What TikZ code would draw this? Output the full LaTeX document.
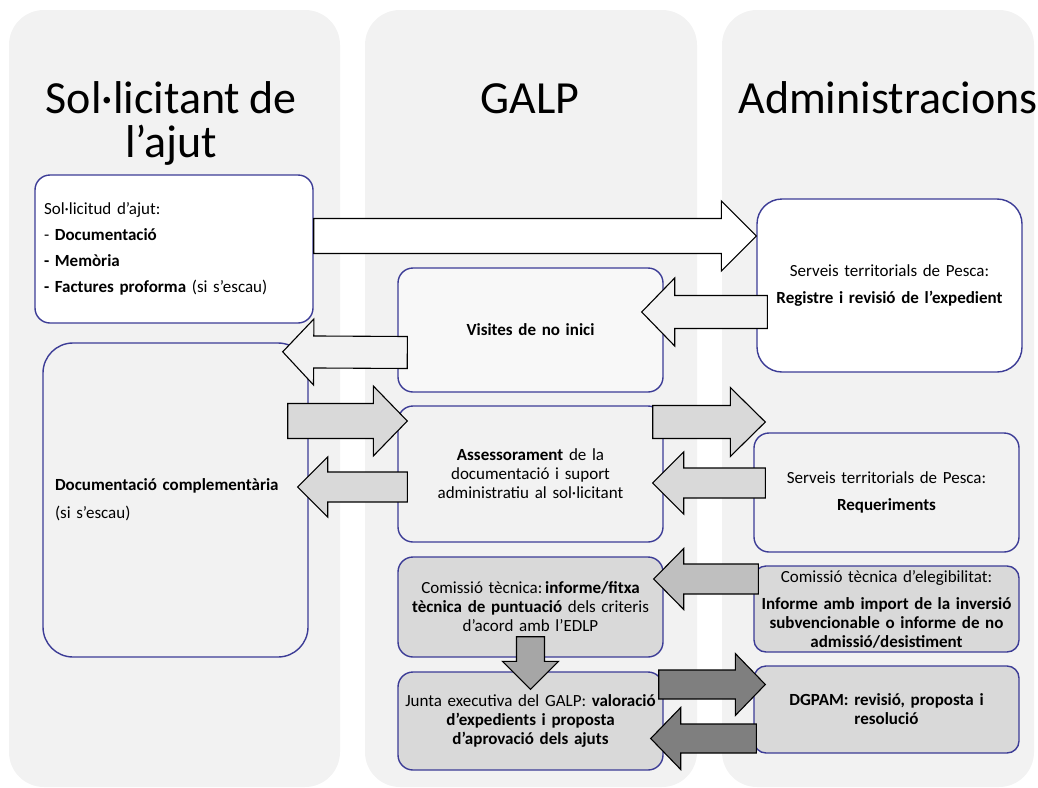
\documentclass[tikz,border=0pt]{standalone}
\usepackage{fontspec}
\setmainfont[WordSpace=0.85]{Carlito}
\usetikzlibrary{calc}
\definecolor{colbg}{HTML}{F2F2F2}
\definecolor{bord}{HTML}{3C3C96}
\definecolor{boxlight}{HTML}{F8F8F8}
\definecolor{boxgray}{HTML}{D9D9D9}
\definecolor{arrA}{HTML}{D9D9D9}
\definecolor{arrB}{HTML}{BFBFBF}
\definecolor{arrC}{HTML}{A6A6A6}
\definecolor{arrD}{HTML}{7F7F7F}
\newcommand{\blockarrow}[6]{%
  \coordinate (ba-s) at #2;
  \coordinate (ba-e) at #3;
  \coordinate (ba-h) at ($(ba-e)!#6!(ba-s)$);
  \draw[blockarr, fill=#1]
    ($(ba-s)!#4!90:(ba-e)$) -- ($(ba-h)!#4!-90:(ba-s)$) -- ($(ba-h)!#5!-90:(ba-s)$)
    -- (ba-e) -- ($(ba-h)!#5!90:(ba-s)$) -- ($(ba-h)!#4!90:(ba-s)$)
    -- ($(ba-s)!#4!-90:(ba-e)$) -- cycle;
}
\tikzset{
  column/.style={fill=colbg, rounded corners=35pt},
  title/.style={font=\fontsize{46}{44}\selectfont, align=center, inner sep=0pt},
  box/.style={draw=bord, line width=1.4pt, rounded corners=15pt, inner xsep=4pt, inner ysep=0pt,
    font=\fontsize{17}{19}\selectfont, align=center, minimum width=265pt, text width=257pt},
  blockarr/.style={draw=black, line width=1.1pt, line join=miter},
}
\begin{document}
\begin{tikzpicture}[x=1pt,y=-1pt]
\useasboundingbox (0,0) rectangle (1038,787);
% columns
\fill[column] (9,10) rectangle (340,787);
\fill[column] (365,10) rectangle (697,787);
\fill[column] (722,10) rectangle (1034,787);
% titles
\node[title, anchor=base] (t1) at (171,157) {Sol·licitant de\\l’ajut};
\node[title, anchor=base] (t2) at (530,113) {GALP};
\node[title, anchor=base] (t3) at (888,113) {Administracions};
% boxes
\node[box, fill=white, minimum width=278pt, minimum height=148pt, text width=260pt, inner xsep=9pt, align=left] (b1) at (174,249)
  {Sol·licitud d’ajut:\\[7pt]- \textbf{Documentació}\\[7pt]\textbf{- Memòria}\\[7pt]\textbf{- Factures proforma} (si s’escau)};
\node[box, fill=boxlight, minimum height=124pt] (b2) at (530.5,330) {\textbf{Visites de no inici}};
\node[box, fill=white, minimum height=173pt, rounded corners=25pt] (b3) at (889.5,285.5)
  {Serveis territorials de Pesca:\\[8pt]\textbf{Registre i revisió de l’expedient}};
\node[box, fill=colbg, minimum height=314pt, rounded corners=30pt, text width=241pt, inner xsep=12pt, align=left] (b4) at (175.5,500)
  {\textbf{Documentació complementària}\\[9pt](si s’escau)};
\node[box, fill=colbg, minimum height=136pt] (b5) at (530.5,474)
  {\textbf{Assessorament} de la\\documentació i suport\\administratiu al sol·licitant};
\node[box, fill=colbg, minimum height=119pt] (b6) at (886.5,492.5)
  {Serveis territorials de Pesca:\\[8pt]\textbf{Requeriments}};
\node[box, fill=boxgray, minimum height=100pt] (b7) at (530.5,607)
  {Comissió tècnica:\,\textbf{informe/fitxa}\\\textbf{tècnica de puntuació} dels criteris\\d’acord amb l’EDLP};
\node[box, fill=boxgray, minimum height=98pt] (b8) at (530.5,721)
  {Junta executiva del GALP: \textbf{valoració}\\\textbf{d’expedients i proposta}\\\textbf{d’aprovació dels ajuts}};
\node[box, fill=boxgray, minimum height=86pt, rounded corners=12pt] (b9) at (886.5,609)
  {Comissió tècnica d’elegibilitat:\\[8pt]\textbf{Informe amb import de la inversió}\\\textbf{subvencionable o informe de no}\\\textbf{admissió/desistiment}};
\node[box, fill=boxgray, minimum height=87pt, rounded corners=12pt] (b10) at (886.5,709.5)
  {\textbf{DGPAM: revisió, proposta i}\\\textbf{resolució}};
% block arrows
\blockarrow{white}{($(b1.east)+(0,-13)$)}{($(b3.west)+(0,-49.5)$)}{17.5pt}{35pt}{35pt}
\blockarrow{colbg}{($(b3.west)+(11,26.5)$)}{($(b2.east)+(-22,-18)$)}{16.5pt}{34pt}{33pt}
\blockarrow{colbg}{($(b2.west)+(10,22.5)$)}{($(b4.north east)+(-26,9.5)$)}{16pt}{33pt}{31pt}
\blockarrow{arrA}{($(b4.east)+(-21,-79)$)}{($(b5.west)+(10,-53)$)}{17.5pt}{35pt}{34pt}
\blockarrow{arrA}{($(b5.west)+(10,13)$)}{($(b4.east)+(-11,-13)$)}{15pt}{30pt}{30pt}
\blockarrow{arrA}{($(b5.east)+(-11,-52)$)}{($(b6.west)+(12,-70.5)$)}{16.5pt}{34.5pt}{35pt}
\blockarrow{arrA}{($(b6.west)+(12,-9.5)$)}{($(b5.east)+(-11,9)$)}{15pt}{31pt}{31pt}
\blockarrow{arrB}{($(b9.west)+(5,-30)$)}{($(b7.east)+(-10,-28)$)}{15pt}{30.5pt}{30pt}
\blockarrow{arrC}{($(b7.south)+(0,-21)$)}{($(b8.north)+(0,18)$)}{14pt}{28pt}{28pt}
\blockarrow{arrD}{($(b8.east)+(-5,-36.5)$)}{($(b10.west)+(12,-25)$)}{14.5pt}{31pt}{30pt}
\blockarrow{arrD}{($(b10.west)+(3,29)$)}{($(b8.east)+(-13,17.5)$)}{14.5pt}{31pt}{30pt}
\end{tikzpicture}
\end{document}
